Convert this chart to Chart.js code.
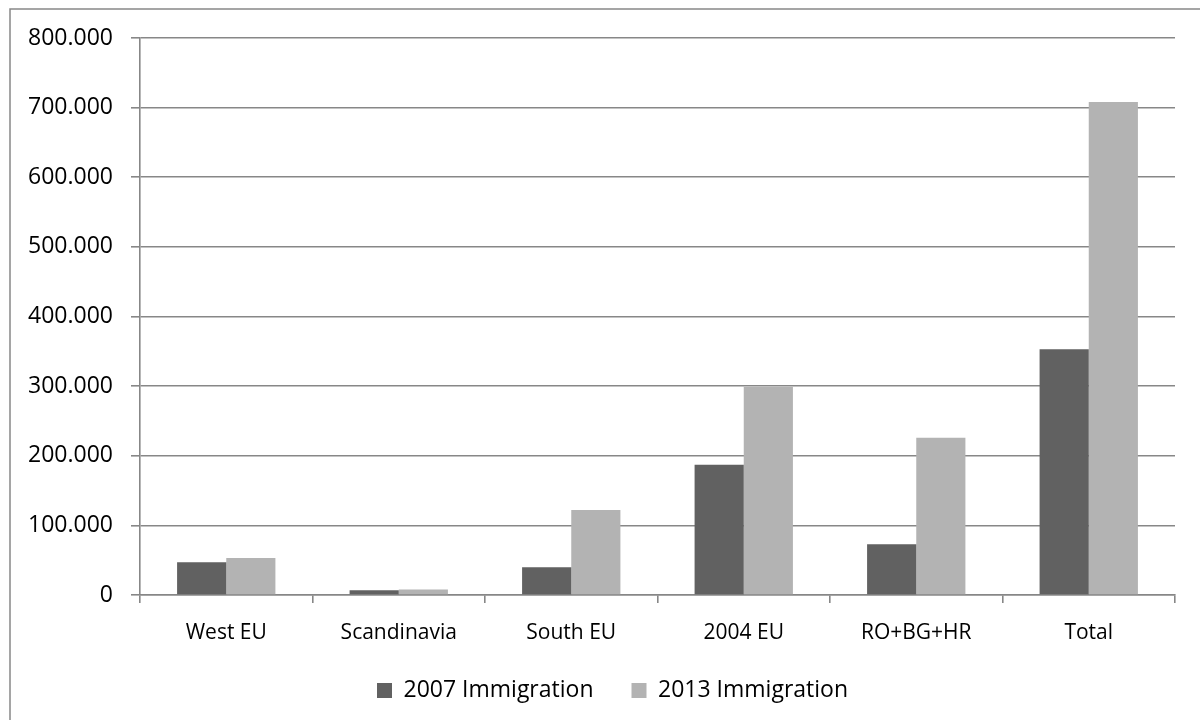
<!DOCTYPE html>
<html>
<head>
<meta charset="utf-8">
<script src="https://cdn.jsdelivr.net/npm/chart.js@4/dist/chart.umd.min.js"></script>
<style>
html,body{margin:0;padding:0;background:#fff;}
#wrap{position:absolute;left:0;top:0;width:1200px;height:720px;}
</style>
</head>
<body>
<div id="wrap"><canvas id="c" width="1200" height="720"></canvas></div>
<script>
const categories = ["West EU", "Scandinavia", "South EU", "2004 EU", "RO+BG+HR", "Total"];
const series2007 = [47000, 7000, 40000, 187000, 73000, 353000];
const series2013 = [53000, 8000, 122000, 299000, 226000, 708000];
const seriesNames = ["2007 Immigration", "2013 Immigration"];
const yTicks = [0, 100000, 200000, 300000, 400000, 500000, 600000, 700000, 800000];

function fmt(v){
  const s = Math.round(v).toString();
  return s.replace(/\B(?=(\d{3})+(?!\d))/g, ".");
}

const FONT = "'Open Sans', 'Liberation Sans', sans-serif";

const borderPlugin = {
  id: 'outerBorder',
  beforeDraw(chart){
    const ctx = chart.ctx;
    ctx.save();
    ctx.fillStyle = '#fff';
    ctx.fillRect(0,0,chart.width,chart.height);
    ctx.strokeStyle = '#888888';
    ctx.lineWidth = 1.5;
    ctx.beginPath();
    ctx.moveTo(10, 800);
    ctx.lineTo(10, 9);
    ctx.lineTo(1300, 9);
    ctx.stroke();
    ctx.restore();
  },
  afterLayout(chart){
    if (chart.legend) {
      chart.legend.left += 20;
      chart.legend.right += 20;
    }
  }
};

new Chart(document.getElementById('c'), {
  type: 'bar',
  data: {
    labels: categories,
    datasets: [
      { label: seriesNames[0], data: series2007, backgroundColor: '#616161', borderWidth: 0 },
      { label: seriesNames[1], data: series2013, backgroundColor: '#b3b3b3', borderWidth: 0 }
    ]
  },
  options: {
    responsive: false,
    animation: false,
    devicePixelRatio: 1,
    layout: { padding: { left: 10, right: 25, top: 38, bottom: 8 } },
    datasets: { bar: { categoryPercentage: 0.57, barPercentage: 1.0 } },
    plugins: {
      tooltip: { enabled: false },
      legend: {
        position: 'bottom',
        labels: {
          color: '#000',
          font: { family: FONT, size: 23 },
          boxWidth: 15, boxHeight: 15,
          padding: 38
        }
      }
    },
    scales: {
      x: {
        grid: { display: true, drawOnChartArea: false, drawTicks: true, tickLength: 8, color: '#878787', lineWidth: 1.6, offset: true },
        border: { display: true, color: '#878787', width: 1.6 },
        ticks: { color: '#000', font: { family: FONT, size: 21 }, padding: 17, maxRotation: 0 },
        afterFit(scale){ scale.height = 46; }
      },
      y: {
        min: 0, max: 800000,
        afterBuildTicks(scale){ scale.ticks = yTicks.map(v => ({ value: v })); },
        grid: { color: '#878787', lineWidth: 1.6, drawTicks: true, tickLength: 9 },
        border: { display: true, color: '#878787', width: 1.6 },
        ticks: { color: '#000', font: { family: FONT, size: 23 }, padding: 18, callback: v => fmt(v) },
        afterFit(scale){ scale.width = 130; }
      }
    }
  },
  plugins: [borderPlugin]
});
</script>
</body>
</html>
